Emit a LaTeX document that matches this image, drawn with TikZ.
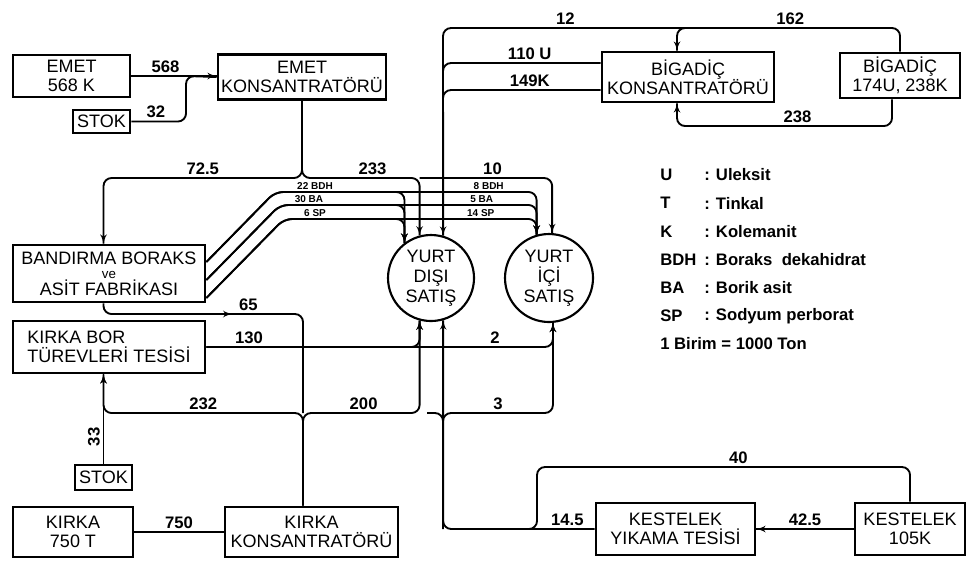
\documentclass[tikz,border=0pt]{standalone}
\usepackage{fontspec}
\setmainfont{Liberation Sans}
\usepackage{tikz}
\usetikzlibrary{arrows}
\usetikzlibrary{decorations.markings}
\tikzset{flowat/.style = {decoration={markings,
                                      mark=at position #1 with {\arrow{latex'}}},
                          postaction={decorate}}}
\tikzset{flow/.style = {flowat=1}}
\tikzset{pipe/.style = {line width=1.4pt, rounded corners=6pt, line join=round}}
\tikzset{box/.style = {draw, line width=2pt, align=center, inner sep=0,
                       font=\fontsize{13.5}{14.5}\selectfont}}
\tikzset{sale/.style = {draw, circle, line width=1.6pt, align=center, inner sep=0,
                        font=\fontsize{13.5}{15}\selectfont}}
\tikzset{qty/.style = {font=\fontsize{12.5}{12.5}\selectfont\bfseries, inner sep=2pt}}
\tikzset{mix/.style = {font=\fontsize{7.5}{7.5}\selectfont\bfseries, inner sep=1pt}}
\tikzset{key/.style = {anchor=west, inner sep=0, font=\fontsize{12.5}{12.5}\selectfont\bfseries}}

\begin{document}
\begin{tikzpicture}[x=0.75pt, y=-0.75pt]
    \useasboundingbox (0,0) rectangle (980,561);

    % plants and mines
    \node [box, minimum width=87.75pt, minimum height=31.5pt] (emet) at (71.5,76) {EMET\\568 K};
    \node [box, minimum width=42.75pt, minimum height=17.25pt] (stoka) at (101.5,121.5) {STOK};
    \node [box, minimum width=126pt, minimum height=33.75pt] (emetk) at (302,77) {EMET\\KONSANTRATÖRÜ};
    \node [box, minimum width=129pt, minimum height=37.5pt] (bigk) at (688,77) {BİGADİÇ\\KONSANTRATÖRÜ};
    \node [box, minimum width=90pt, minimum height=33.75pt] (bigm) at (900,75.5) {BİGADİÇ\\174U, 238K};
    \node [box, minimum width=144pt, minimum height=42.75pt] (band) at (109,273.5)
        {BANDIRMA BORAKS\\[-4pt]{\fontsize{10}{10}\selectfont ve}\\[-2pt]ASİT FABRİKASI};
    \node [box, align=left, minimum width=144pt, minimum height=39pt] (kbor) at (109,347)
        {KIRKA BOR\\TÜREVLERİ TESİSİ};
    \node [box, minimum width=42.75pt, minimum height=18.75pt] (stokb) at (103.5,477.5) {STOK};
    \node [box, minimum width=90pt, minimum height=37.5pt] (kirka) at (73,532) {KIRKA\\750 T};
    \node [box, minimum width=129.75pt, minimum height=37.5pt] (kirkak) at (311.5,532) {KIRKA\\KONSANTRATÖRÜ};
    \node [box, minimum width=119.25pt, minimum height=39pt] (kyik) at (675.5,529) {KESTELEK\\YIKAMA TESİSİ};
    \node [box, minimum width=82.5pt, minimum height=39pt] (kest) at (910,529) {KESTELEK\\105K};

    % sales
    \node [sale, minimum size=64.5pt] (disi) at (431,278) {YURT\\DIŞI\\SATIŞ};
    \node [sale, minimum size=66pt] (ici) at (549,278) {YURT\\İÇİ\\SATIŞ};

    \coordinate (ej) at (302,178);
    \coordinate (bt) at (443,28);
    \coordinate (bk) at (677,28);
    \coordinate (bb) at (677,126);
    \coordinate (kj) at (303,413);
    \coordinate (kx) at (443,413);
    \coordinate (kl) at (537,467);

    % Emet
    \draw [pipe, flow] (emet.east) -- node [qty, above, pos=0.4] {568} (emet.east -| emetk.west);
    \draw [pipe] (stoka.east) -- node [qty, above, pos=0.45] {32} (186,121.5) -- (186,76) -- (emetk.west);
    \draw [pipe, flow] (emetk.south) -- (ej) -| (stokb.north |- band.north) node [qty, above, pos=0.25] {72.5};
    \draw [pipe, flow] (emetk.south) -- (ej) -- node [qty, above, pos=0.6] {233} (ej -| disi.105) -- (disi.105);
    \draw [pipe, flow] (ej -| disi.105) -- node [qty, above, pos=0.55] {10} (ej -| ici.86) -- (ici.86);

    % Bigadic
    \draw [pipe, flow] (bigm.north) |- (bt) node [qty, above, pos=0.62] {162} node [qty, above, pos=0.866] {12} -- (disi.74);
    \draw [pipe, flow] ([xshift=15pt]bk) -- (bk) -- (bk |- bigk.north);
    \draw [pipe, flow] ([xshift=-6pt]bigm.south) |- (bb) node [qty, above, pos=0.72] {238} -- (bb |- bigk.south);
    \draw [pipe] (bigk.west |- 0,63) -- node [qty, above, pos=0.45] {110 U} (bt |- 0,63) -- (bt |- 0,82);
    \draw [pipe] (bigk.west |- 0,90) -- node [qty, above, pos=0.45] {149K} (bt |- 0,90) -- (bt |- 0,109);

    % Bandirma products
    \draw [pipe, flow] ([yshift=8.6pt]band.east) -- (275,192)
        -- node [mix, above, pos=0.153] {22 BDH} node [mix, above, pos=0.817] {8 BDH} (ici.106 |- 0,192) -- (ici.106);
    \draw [pipe, flow] ([yshift=-4.9pt]band.east) -- (280,205)
        -- node [mix, above, pos=0.113] {30 BA} node [mix, above, pos=0.786] {5 BA} (ici.106 |- 0,205) -- (ici.106);
    \draw [pipe, flow] ([yshift=-18.4pt]band.east) -- (284,219)
        -- node [mix, above, pos=0.123] {6 SP} node [mix, above, pos=0.779] {14 SP} (ici.106 |- 0,219) -- (ici.106);
    \draw [pipe, flow] ([yshift=8.6pt]band.east) -- (275,192) -- (disi.127 |- 0,192) -- (disi.127);
    \draw [pipe, flow] ([yshift=-4.9pt]band.east) -- (280,205) -- (disi.127 |- 0,205) -- (disi.127);
    \draw [pipe, flow] ([yshift=-18.4pt]band.east) -- (284,219) -- (disi.127 |- 0,219) -- (disi.127);
    \draw [pipe, flowat=0.45] (stokb.north |- band.south) |- (kj |- 0,314) node [qty, above, pos=0.863] {65} -- (kj);

    % Kirka
    \draw [pipe, flow] (kbor.east) -- node [qty, above, pos=0.2] {130} (kbor.east -| disi.255) -- (disi.255);
    \draw [pipe, flow] (kbor.east) -- node [qty, above, pos=0.833] {2} (kbor.east -| ici.275) -- (ici.275);
    \draw [pipe, flow] (kirkak.north -| kj) -- (kj) -| (stokb.north |- kbor.south) node [qty, above, pos=0.25] {232};
    \draw [pipe, flow] (kirkak.north -| kj) -- (kj) -- node [qty, above, pos=0.52] {200} (kj -| disi.255) -- (disi.255);
    \draw [pipe, flow] (stokb.north) -- node [qty, rotate=90, anchor=south, pos=0.3] {33} (stokb.north |- kbor.south);
    \draw [pipe] (kirka.east) -- node [qty, above] {750} (kirka.east -| kirkak.west);

    % Kestelek
    \draw [pipe, flow] (kest.west) -- node [qty, above] {42.5} (kyik.east);
    \draw [pipe, flow] (kyik.west) -- node [qty, above, pos=0.18] {14.5} (kyik.west -| disi.286) -- (disi.286);
    \draw [pipe] (kest.north) |- (kl) node [qty, above, pos=0.73] {40} -- (kl |- kyik.west) -- ([xshift=-15pt]kl |- kyik.west);
    \draw [pipe, flow] (kyik.west -| kx) -- (kx) -- node [qty, above] {3} (kx -| ici.275) -- (ici.275);
    \draw [pipe] (kx |- 0,428) -- (kx) -- ([xshift=-12pt]kx);

    % legend
    \foreach \abbr/\word [count=\i] in {U/Uleksit, T/Tinkal, K/Kolemanit, BDH/Boraks~~dekahidrat, BA/Borik asit, SP/Sodyum perborat} {
        \node [key] (key\abbr) at (660, 175 + 28.2*\i - 28.2) {\abbr};
        \node [key] at (704, 175 + 28.2*\i - 28.2) {: \word};
    }
    \node [key] (unit) at (660,344) {1 Birim = 1000 Ton};
\end{tikzpicture}
\end{document}
